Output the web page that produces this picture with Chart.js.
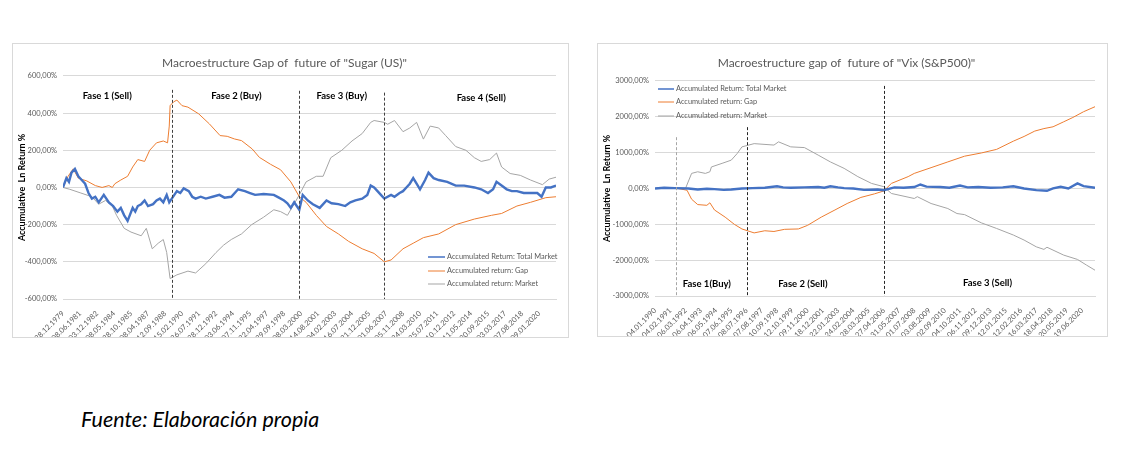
<!DOCTYPE html>
<html>
<head>
<meta charset="utf-8">
<script src="https://cdn.jsdelivr.net/npm/chart.js@4.4.1/dist/chart.umd.min.js"></script>
<style>
  body { margin: 0; background: #fff; width: 1134px; height: 452px; position: relative; overflow: hidden; }
  .panel { position: absolute; outline: 1px solid #d9d9d9; background: #fff; }
  #sugarBox { left: 13px; top: 44px; width: 555px; height: 293px; }
  #vixBox { left: 598px; top: 44px; width: 509px; height: 292px; }
  .source { position: absolute; left: 81px; top: 408px; font: italic 21.5px Lato, sans-serif; line-height: 22px; color: #000; }
</style>
</head>
<body>
<div class="panel" id="sugarBox"><canvas id="sugarChart"></canvas></div>
<div class="panel" id="vixBox"><canvas id="vixChart"></canvas></div>
<div class="source">Fuente: Elaboración propia</div>

<script>
// ---- data: Sugar (US) ----
// x = position in units of the date-label slots, y = accumulated return in %
const sugarDates = ['28.12.1979', '08.06.1981', '03.12.1982', '08.05.1984', '28.10.1985', '08.04.1987', '12.09.1988',
    '15.02.1990', '26.07.1991', '28.12.1992', '03.06.1994', '07.11.1995', '22.04.1997', '29.09.1998', '08.03.2000',
    '14.08.2001', '04.02.2003', '16.07.2004', '21.12.2005', '01.06.2007', '05.11.2008', '24.03.2010', '25.07.2011',
    '10.12.2012', '11.05.2014', '30.09.2015', '03.03.2017', '07.08.2018', '09.01.2020'];

const sugarTotal = [[0, 0], [0.2, 50], [0.35, 30], [0.5, 80], [0.7, 100], [0.9, 60], [1.1, 40], [1.3, 20], [1.5, -30], [1.7, -60],
    [1.9, -50], [2.1, -80], [2.4, -40], [2.7, -80], [2.95, -100], [3.2, -130], [3.4, -110], [3.6, -150], [3.8, -180],
    [4.1, -110], [4.25, -130], [4.4, -100], [4.6, -90], [4.8, -70], [5.0, -100], [5.3, -90], [5.5, -70], [5.7, -60],
    [5.9, -80], [6.1, -40], [6.25, -80], [6.4, -60], [6.7, -20], [6.9, -30], [7.1, -5], [7.4, -20], [7.6, -50],
    [7.8, -60], [8.1, -50], [8.4, -60], [8.8, -50], [9.2, -40], [9.5, -55], [9.9, -50], [10.3, -10], [10.7, -20],
    [11.0, -30], [11.3, -40], [11.8, -35], [12.4, -40], [12.7, -55], [13.0, -70], [13.2, -85], [13.4, -110],
    [13.6, -80], [13.9, -120], [14.1, -40], [14.4, -70], [14.7, -90], [15.1, -110], [15.5, -70], [15.8, -85],
    [16.2, -90], [16.6, -100], [16.9, -80], [17.2, -70], [17.6, -60], [17.9, -40], [18.1, 10], [18.3, 0], [18.5, -20],
    [18.7, -40], [18.9, -60], [19.3, -40], [19.5, -50], [19.8, -30], [20.0, -20], [20.2, 0], [20.4, 20], [20.6, 50],
    [20.8, 20], [21.0, -10], [21.3, 40], [21.5, 80], [21.8, 50], [22.1, 40], [22.6, 30], [23.1, 10], [23.6, 10],
    [24.2, 0], [24.6, -10], [25.0, -30], [25.3, -10], [25.5, 30], [25.8, 10], [26.1, -10], [26.4, -20], [26.7, -20],
    [27.1, -30], [27.5, -30], [27.9, -30], [28.15, -50], [28.4, 0], [28.7, 0], [29, 10]];

const sugarGap = [[0, 0], [0.3, 60], [0.6, 100], [0.9, 50], [1.4, 35], [1.9, 10], [2.3, 0], [2.7, 10], [2.9, 0],
    [3.05, 20], [3.4, 40], [3.8, 60], [4.1, 110], [4.4, 150], [4.8, 140], [5.1, 200], [5.5, 240], [5.9, 250],
    [6.15, 240], [6.25, 330], [6.3, 440], [6.5, 460], [6.7, 470], [7.0, 440], [7.35, 432], [7.98, 396], [8.61, 342],
    [9.24, 279], [9.66, 275], [10.08, 261], [10.5, 252], [11.13, 207], [11.55, 162], [12.2, 125], [12.8, 95],
    [13.4, 30], [13.9, -50], [14.3, -80], [14.9, -150], [15.5, -210], [16.2, -250], [16.8, -290], [17.6, -330],
    [18.3, -355], [18.9, -400], [19.3, -390], [20.0, -330], [20.6, -300], [21.2, -270], [22.1, -250], [23.1, -200],
    [24.2, -170], [25.2, -150], [25.8, -140], [26.7, -100], [27.5, -80], [28.4, -55], [29, -50]];

const sugarMarket = [[0, 0], [0.4, -10], [1.05, -30], [1.7, -50], [2.1, -90], [2.5, -70], [2.9, -100], [3.15, -150],
    [3.6, -220], [4.0, -240], [4.6, -260], [4.9, -220], [5.25, -330], [5.6, -300], [5.9, -280], [6.1, -350],
    [6.3, -490], [6.7, -470], [7.35, -450], [7.8, -460], [8.4, -410], [9.0, -350], [9.45, -310], [9.9, -280],
    [10.5, -250], [11.1, -200], [11.8, -160], [12.4, -120], [12.8, -130], [13.2, -150], [13.65, -80], [13.9, -40],
    [14.3, 30], [14.9, 60], [15.3, 60], [15.75, 160], [16.4, 200], [17.0, 250], [17.6, 290], [18.1, 350], [18.3, 360],
    [18.9, 350], [19.1, 340], [19.5, 360], [20.0, 300], [20.4, 320], [20.8, 350], [21.2, 260], [21.6, 330],
    [22.1, 320], [22.5, 280], [23.1, 220], [23.7, 200], [24.2, 160], [24.6, 140], [25.1, 150], [25.5, 185],
    [25.8, 110], [26.3, 75], [26.9, 65], [27.5, 40], [28.2, 15], [28.6, 45], [29, 55]];

const sugarPhaseText = ['Fase 1 (Sell)', 'Fase 2 (Buy)', 'Fase 3 (Buy)', 'Fase 4 (Sell)'];
const sugarPhaseX = [2.6, 10.2, 16.4, 24.6];
const sugarPhaseY = [492, 492, 492, 481];
const sugarSplitX = [6.4, 13.9, 18.9];
const sugarSplitTop = [525, 520, 510];

// ---- data: Vix (S&P500) ----
const vixDates = ['04.01.1990', '04.02.1991', '06.03.1992', '06.04.1993', '06.05.1994', '07.06.1995', '08.07.1996',
    '07.08.1997', '10.09.1998', '12.10.1999', '09.11.2000', '18.12.2001', '22.01.2003', '24.02.2004', '28.03.2005',
    '27.04.2006', '31.05.2007', '01.07.2008', '03.08.2009', '02.09.2010', '04.10.2011', '06.11.2012', '09.12.2013',
    '12.01.2015', '12.02.2016', '16.03.2017', '18.04.2018', '20.05.2019', '19.06.2020'];

const vixTotal = [[0, 0], [0.6, 20], [1.3, 10], [2.2, 0], [2.8, -30], [3.4, -10], [3.9, -20], [4.5, -40], [5.0, -30],
    [5.7, 0], [6.4, 10], [7.2, 20], [8.0, 60], [8.4, 30], [8.9, 20], [9.8, 30], [10.7, 40], [11.1, 20], [11.5, 60],
    [12.0, 30], [12.4, 10], [13.0, 0], [13.7, -40], [14.6, -30], [15.0, -50], [15.7, 30], [16.3, 20], [17.0, 40],
    [17.4, 110], [17.8, 50], [18.7, 40], [19.3, 20], [20.0, 80], [20.5, 30], [21.2, 40], [22.0, 20], [22.8, 30],
    [23.5, 60], [24.2, 0], [25.0, -47], [25.7, -65], [26.1, 0], [26.6, 47], [27.1, 0], [27.7, 140], [28.1, 65],
    [28.85, 20]];

const vixGap = [[0, 0], [0.9, 20], [1.5, 0], [2.1, -50], [2.4, -300], [2.8, -450], [3.4, -470], [3.6, -400],
    [3.9, -600], [4.6, -800], [5.2, -1000], [5.7, -1130], [6.5, -1240], [7.2, -1180], [7.8, -1200], [8.5, -1140],
    [9.4, -1130], [10.0, -1030], [10.9, -800], [11.8, -600], [12.6, -420], [13.5, -250], [14.4, -150], [15.0, -70],
    [15.5, 140], [16.6, 330], [17.0, 420], [18.1, 580], [19.2, 740], [20.3, 900], [21.4, 990], [22.4, 1090],
    [23.5, 1320], [24.2, 1450], [24.9, 1600], [25.5, 1670], [26.1, 1720], [26.8, 1860], [27.4, 1980], [28.1, 2140],
    [28.85, 2280]];

const vixMarket = [[0, 0], [1.0, 20], [2.0, 0], [2.4, 420], [2.8, 465], [3.3, 420], [3.6, 465], [3.7, 600], [4.4, 700],
    [5.0, 790], [5.4, 980], [5.7, 1160], [6.5, 1250], [7.8, 1210], [8.1, 1300], [8.9, 1160], [9.8, 1140], [10.7, 930],
    [11.5, 740], [12.4, 560], [13.3, 330], [14.2, 140], [15.0, 50], [15.5, -140], [17.0, -280], [17.2, -230],
    [18.1, -420], [19.2, -560], [19.8, -700], [20.3, -730], [21.4, -960], [22.4, -1116], [23.5, -1300], [24.2, -1440],
    [25.0, -1628], [25.5, -1700], [25.7, -1640], [26.8, -1860], [27.7, -1980], [28.3, -2140], [28.85, -2280]];

const vixPhaseText = ['Fase 1(Buy)', 'Fase 2 (Sell)', 'Fase 3 (Sell)'];
const vixPhaseX = [3.4, 9.7, 21.8];
const vixPhaseY = [-2664, -2664, -2636];
const vixSplitX = [1.4, 6.0, 15.0];
const vixSplitTop = [1430, 1710, 2860];

const seriesNames = ['Accumulated Return: Total Market', 'Accumulated return: Gap', 'Accumulated return: Market'];
const seriesColors = ['#4472C4', '#ED7D31', '#A5A5A5'];

// Draws the phase captions, split lines and a small legend inside the chart
const marksPlugin = {
    id: 'marks',
    afterDatasetsDraw(chart, args, opts) {
        const ctx = chart.ctx;
        const xs = chart.scales.x;
        const ys = chart.scales.y;
        const bottom = ys.getPixelForValue(ys.min);

        ctx.save();
        opts.splitX.forEach((v, i) => {
            const px = Math.round(xs.getPixelForValue(v)) + 0.5;
            ctx.strokeStyle = opts.splitColors[i];
            ctx.lineWidth = 1;
            ctx.setLineDash([3, 2]);
            ctx.beginPath();
            ctx.moveTo(px, ys.getPixelForValue(opts.splitTop[i]));
            ctx.lineTo(px, bottom);
            ctx.stroke();
        });
        ctx.setLineDash([]);

        ctx.font = 'bold 9.5px Lato, sans-serif';
        ctx.fillStyle = '#000';
        ctx.textAlign = 'center';
        ctx.textBaseline = 'middle';
        opts.phaseText.forEach((t, i) => {
            ctx.fillText(t, xs.getPixelForValue(opts.phaseX[i]), ys.getPixelForValue(opts.phaseY[i]));
        });

        // legend
        const lg = opts.legend;
        ctx.font = '7.4px Lato, sans-serif';
        ctx.fillStyle = '#595959';
        ctx.textAlign = 'left';
        chart.data.datasets.forEach((ds, i) => {
            const y = lg.rows[i];
            ctx.strokeStyle = ds.borderColor;
            ctx.lineWidth = i === 0 ? 1.5 : 1;
            ctx.beginPath();
            ctx.moveTo(lg.x1, y);
            ctx.lineTo(lg.x2, y);
            ctx.stroke();
            ctx.fillText(ds.label, lg.x2 + 2, y);
        });
        ctx.restore();
    }
};

function pct(v) {
    return v.toFixed(2).replace('.', ',') + '%';
}

function buildChart(id, cfg) {
    const canvas = document.getElementById(id);
    if (!canvas) {
        console.warn('canvas not found: ' + id);
        return null;
    }
    const sets = [cfg.total, cfg.gap, cfg.market].map((rows, i) => ({
        label: seriesNames[i],
        data: rows.map(r => ({ x: r[0], y: r[1] })),
        borderColor: seriesColors[i],
        borderWidth: i === 0 ? 2.4 : 1,
        pointRadius: 0,
        tension: 0,
        fill: false
    }));

    return new Chart(canvas.getContext('2d'), {
        type: 'line',
        data: { datasets: sets },
        plugins: [marksPlugin],
        options: {
            responsive: true,
            maintainAspectRatio: false,
            animation: false,
            layout: { padding: { left: 0, right: 12, top: 0, bottom: 0 } },
            plugins: {
                legend: { display: false },
                tooltip: { enabled: false },
                title: {
                    display: true,
                    text: cfg.title,
                    color: '#595959',
                    font: { family: 'Lato', size: 12, weight: 'normal' },
                    padding: { top: 12, bottom: cfg.titleGap }
                },
                marks: cfg.marks
            },
            scales: {
                x: {
                    type: 'linear',
                    min: 0,
                    max: cfg.xMax,
                    grid: { display: false },
                    border: { color: '#d9d9d9' },
                    afterFit: s => { s.height = cfg.xHeight; },
                    ticks: {
                        stepSize: 1,
                        includeBounds: false,
                        autoSkip: false,
                        maxRotation: 45,
                        minRotation: 45,
                        padding: 2,
                        color: '#595959',
                        font: { family: 'Lato', size: 7.5 },
                        callback: v => cfg.dates[v] || ''
                    }
                },
                y: {
                    min: cfg.yMin,
                    max: cfg.yMax,
                    grid: { color: '#d9d9d9', drawTicks: false },
                    border: { display: false },
                    afterFit: s => { s.width = cfg.yWidth; },
                    title: {
                        display: true,
                        text: 'Accumulative  Ln Return %',
                        color: '#000',
                        font: { family: 'Lato', size: 9, weight: 'bold' },
                        padding: { top: 4, bottom: 4 }
                    },
                    ticks: {
                        stepSize: cfg.yStep,
                        padding: 6,
                        color: '#595959',
                        font: { family: 'Lato', size: 7.5 },
                        callback: v => pct(v)
                    }
                }
            }
        }
    });
}

buildChart('sugarChart', {
    title: 'Macroestructure Gap of  future of "Sugar (US)"',
    titleGap: 5.5,
    dates: sugarDates,
    total: sugarTotal, gap: sugarGap, market: sugarMarket,
    xMax: 29, xHeight: 38, yWidth: 50,
    yMin: -600, yMax: 600, yStep: 200,
    marks: {
        splitX: sugarSplitX, splitTop: sugarSplitTop,
        splitColors: ['#404040', '#404040', '#404040'],
        phaseText: sugarPhaseText, phaseX: sugarPhaseX, phaseY: sugarPhaseY,
        legend: { x1: 415, x2: 432, rows: [213, 227, 240] }
    }
});

buildChart('vixChart', {
    title: 'Macroestructure gap of  future of "Vix (S&P500)"',
    titleGap: 10.5,
    dates: vixDates,
    total: vixTotal, gap: vixGap, market: vixMarket,
    xMax: 28.85, xHeight: 40, yWidth: 57,
    yMin: -3000, yMax: 3000, yStep: 1000,
    marks: {
        splitX: vixSplitX, splitTop: vixSplitTop,
        splitColors: ['#a6a6a6', '#262626', '#262626'],
        phaseText: vixPhaseText, phaseX: vixPhaseX, phaseY: vixPhaseY,
        legend: { x1: 60, x2: 76, rows: [45, 58, 72] }
    }
});
</script>
</body>
</html>
